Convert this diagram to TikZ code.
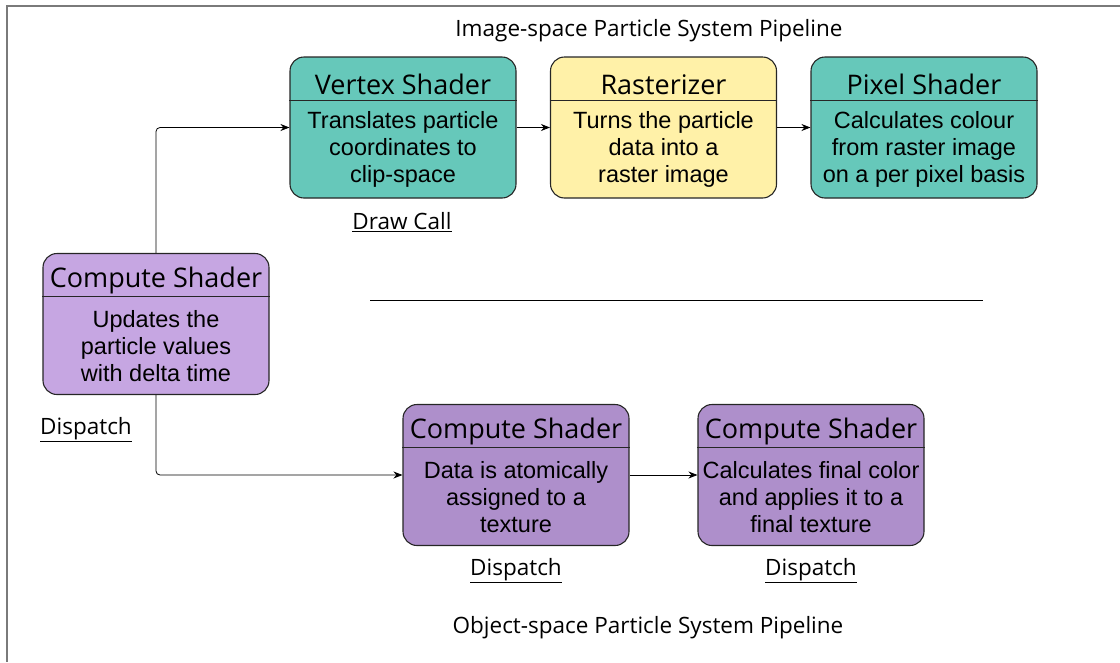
\documentclass[tikz,border=0pt]{standalone}
\usepackage{fontspec}
\setmainfont{Liberation Sans}
\newfontfamily\headfont{Open Sans}
\usetikzlibrary{arrows.meta}

\definecolor{vertexteal}{HTML}{66C8BA}
\definecolor{rasteryellow}{HTML}{FFF1A8}
\definecolor{updatelilac}{HTML}{C6A6E2}
\definecolor{computeviolet}{HTML}{AE8FCB}
\definecolor{framegray}{HTML}{7A7A7A}

\tikzset{
  shaderbox/.style={draw=black!85, line width=1.1pt, rounded corners=14pt,
    minimum width=226pt, minimum height=141pt, inner sep=0pt},
  shadertitle/.style={font=\headfont\fontsize{27}{30}\selectfont},
  shaderbody/.style={font=\fontsize{23.5}{27}\selectfont, align=center},
  flow/.style={-{Stealth[length=9pt,width=7pt]}, line width=0.8pt, rounded corners=4pt},
  caption/.style={font=\headfont\fontsize{22.5}{26}\selectfont},
  calllabel/.style={font=\headfont\fontsize{22.5}{26}\selectfont},
}

% name, x, y, fill, title, body
\newcommand{\shaderblock}[6]{%
  \node[shaderbox, fill=#4] (#1) at (#2,#3) {};
  \draw[line width=1pt, black!85] ([yshift=-44pt]#1.north west) -- ([yshift=-44pt]#1.north east);
  \node[shadertitle] (#1-title) at ([yshift=-28pt]#1.north) {#5};
  \node[shaderbody] (#1-body) at ([yshift=-93pt]#1.north) {#6};
}

\begin{document}
\begin{tikzpicture}[x=1pt,y=-1pt]
  \useasboundingbox (0,0) rectangle (1120,662);
  \draw[framegray, line width=2pt] (1120,6) -- (7,6) -- (7,662);

  \node[caption] (imagetitle) at (649,31) {Image-space Particle System Pipeline};
  \node[caption] (objecttitle) at (648,628) {Object-space Particle System Pipeline};

  % image-space pipeline
  \shaderblock{vertex}{403}{127.5}{vertexteal}{Vertex Shader}{Translates particle\\coordinates to\\clip-space}
  \shaderblock{raster}{663.5}{127.5}{rasteryellow}{Rasterizer}{Turns the particle\\data into a\\raster image}
  \shaderblock{pixel}{924}{127.5}{vertexteal}{Pixel Shader}{Calculates colour\\from raster image\\on a per pixel basis}
  \node[calllabel] (drawcall) at (402,222) {\underline{Draw Call}};

  % shared update step
  \shaderblock{update}{156}{324}{updatelilac}{Compute Shader}{Updates the\\particle values\\with delta time}
  \node[calllabel] (updatecall) at (86,430) {\underline{Dispatch}};

  % object-space pipeline
  \shaderblock{atomic}{516}{475}{computeviolet}{Compute Shader}{Data is atomically\\assigned to a\\texture}
  \shaderblock{final}{811}{475}{computeviolet}{Compute Shader}{Calculates final color\\and applies it to a\\final texture}
  \node[calllabel] (atomiccall) at (516,571) {\underline{Dispatch}};
  \node[calllabel] (finalcall) at (811,571) {\underline{Dispatch}};

  \coordinate (split-l) at (370,300);
  \coordinate (split-r) at (983,300);
  \draw[line width=0.9pt] (split-l) -- (split-r);

  \draw[flow] (update.north) |- (vertex.west);
  \draw[flow] (update.south) |- (atomic.west);
  \draw[flow] (vertex) -- (raster);
  \draw[flow] (raster) -- (pixel);
  \draw[flow] (atomic) -- (final);
\end{tikzpicture}
\end{document}
